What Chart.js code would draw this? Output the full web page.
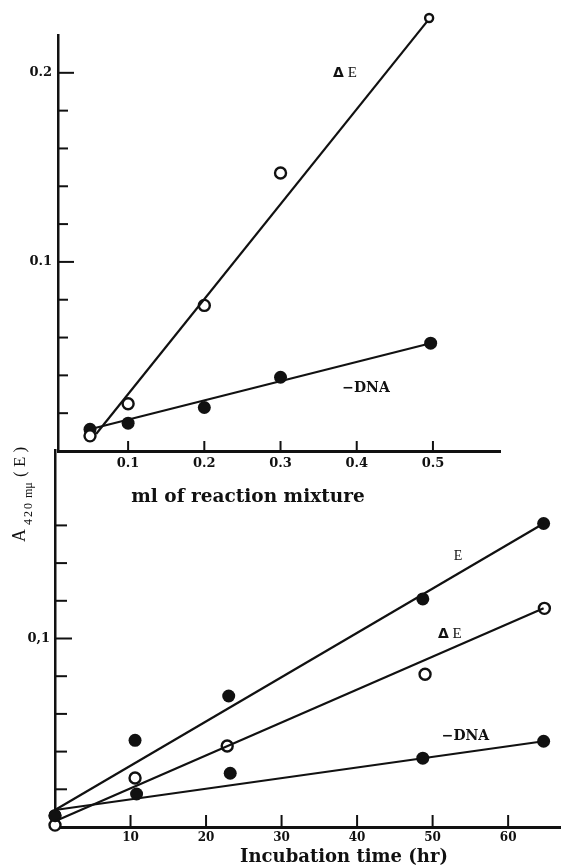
<!DOCTYPE html>
<html>
<head>
<meta charset="utf-8">
<script src="https://cdn.jsdelivr.net/npm/chart.js@4.4.1/dist/chart.umd.min.js"></script>
<style>
  html, body { margin: 0; padding: 0; background: #fff; }
  #wrap { position: relative; width: 561px; height: 868px; }
  #wrap canvas { position: absolute; left: 0; top: 0; }
</style>
</head>
<body>
<div id="wrap">
  <canvas id="time__canvas" width="561" height="868"></canvas>
  <canvas id="volume__canvas" width="561" height="868"></canvas>
</div>
<script>
// upper panel: A420 against ml of reaction mixture
const volumeDeltaX = [0.05, 0.1, 0.2, 0.3, 0.495];
const volumeDeltaE = [0.008, 0.025, 0.077, 0.147, 0.229];
const volumeNoDnaX = [0.05, 0.1, 0.2, 0.3, 0.497];
const volumeNoDna = [0.0115, 0.0147, 0.023, 0.039, 0.057];
const volumeDeltaFitX = [0.058, 0.494];
const volumeDeltaFitY = [0.009, 0.228];
const volumeNoDnaFitX = [0.05, 0.497];
const volumeNoDnaFitY = [0.0115, 0.057];
const volumeXTicks = [0.1, 0.2, 0.3, 0.4, 0.5];
const volumeYTicks = [0.02, 0.04, 0.06, 0.08, 0.1, 0.12, 0.14, 0.16, 0.18, 0.2];
const volumeYLabels = [0.1, 0.2];

// lower panel: A420 against incubation time
const timeEX = [0, 10.6, 23, 48.7, 64.7];
const timeE = [0.006, 0.046, 0.0695, 0.121, 0.161];
const timeDeltaX = [0, 10.6, 22.8, 49, 64.8];
const timeDeltaE = [0.001, 0.026, 0.043, 0.081, 0.116];
const timeNoDnaX = [0, 10.8, 23.2, 48.7, 64.7];
const timeNoDna = [0.006, 0.0175, 0.0285, 0.0365, 0.0455];
const timeEFitX = [0, 64.7];
const timeEFitY = [0.009, 0.161];
const timeDeltaFitX = [0, 64.7];
const timeDeltaFitY = [0.003, 0.116];
const timeNoDnaFitX = [0, 64.7];
const timeNoDnaFitY = [0.009, 0.0455];
const timeXTicks = [10, 20, 30, 40, 50, 60];
const timeYTicks = [0.02, 0.04, 0.06, 0.08, 0.1, 0.12, 0.14, 0.16];
const timeYLabels = [0.1];

const INK = "#111";
const TICK_FONT = { family: "'DejaVu Serif'", size: 13, weight: "bold" };

function zip(xs, ys) {
  return xs.map((x, i) => ({ x: x, y: ys[i] }));
}

function fitLine(xs, ys) {
  return { type: "line", data: zip(xs, ys), borderColor: INK, borderWidth: 2.2, pointRadius: 0, clip: false };
}

function openDots(xs, ys, radius) {
  return { data: zip(xs, ys), pointRadius: radius, backgroundColor: "#fff", borderColor: INK, borderWidth: 2.4, clip: false };
}

function filledDots(xs, ys) {
  return { data: zip(xs, ys), pointRadius: 6.5, backgroundColor: INK, borderColor: INK, borderWidth: 0, clip: false };
}

// no room kept for edge labels, the axes run to the edge of the plot box
function tightX(height) {
  return (s) => {
    s.height = height;
    s.paddingLeft = 0;
    s.paddingRight = 0;
  };
}

function tightY(width) {
  return (s) => {
    s.width = width;
    s.paddingTop = 0;
    s.paddingBottom = 0;
  };
}

// chart.js skips points outside the chart area even with clip off, so draw those again here
const strayPoints = {
  id: "strayPoints",
  afterDatasetsDraw(chart) {
    const area = chart.chartArea;
    const whole = { left: 0, top: 0, right: chart.width, bottom: chart.height };
    chart.data.datasets.forEach((ds, i) => {
      chart.getDatasetMeta(i).data.forEach((pt) => {
        const inside = pt.x >= area.left && pt.x <= area.right && pt.y >= area.top && pt.y <= area.bottom;
        if (!inside) pt.draw(chart.ctx, whole);
      });
    });
  },
};

// ticks point into the plot, so they are drawn here instead of by the scale
const inwardTicks = {
  id: "inwardTicks",
  afterDraw(chart, args, opts) {
    const { ctx, chartArea } = chart;
    const xs = chart.scales.x;
    const ys = chart.scales.y;
    ctx.save();
    ctx.strokeStyle = INK;
    ctx.lineWidth = 2;
    opts.yTicks.forEach((v) => {
      const py = ys.getPixelForValue(v);
      const len = opts.yMajor.includes(v) ? opts.majorLen : opts.minorLen;
      ctx.beginPath();
      ctx.moveTo(chartArea.left, py);
      ctx.lineTo(chartArea.left + len, py);
      ctx.stroke();
    });
    opts.xTicks.forEach((v) => {
      const px = xs.getPixelForValue(v);
      ctx.beginPath();
      ctx.moveTo(px, chartArea.bottom);
      ctx.lineTo(px, chartArea.bottom - opts.xLen);
      ctx.stroke();
    });
    ctx.restore();
  },
};

const textLayer = {
  id: "textLayer",
  afterDatasetsDraw(chart, args, opts) {
    const ctx = chart.ctx;
    const xs = chart.scales.x;
    const ys = chart.scales.y;
    ctx.save();
    ctx.fillStyle = INK;
    ctx.textBaseline = "alphabetic";
    opts.notes.forEach((note) => {
      let px = xs.getPixelForValue(note.x);
      const py = ys.getPixelForValue(note.y);
      ctx.textAlign = "left";
      note.parts.forEach(([str, font]) => {
        ctx.font = font;
        ctx.fillText(str, px, py);
        px += ctx.measureText(str).width;
      });
    });
    opts.titles.forEach((t) => {
      ctx.font = t.font;
      ctx.textAlign = "center";
      ctx.fillText(t.text, t.x, t.y);
    });
    if (opts.yTitle) {
      const yt = opts.yTitle;
      ctx.translate(yt.x, yt.y);
      ctx.rotate(-Math.PI / 2);
      ctx.textAlign = "left";
      ctx.font = "18px 'Liberation Serif'";
      ctx.fillText("A", 0, 0);
      ctx.font = "12px 'Liberation Serif'";
      ctx.letterSpacing = "2px";
      ctx.fillText("420", 17, 7);
      ctx.letterSpacing = "0px";
      ctx.fillText("mμ", 44, 7);
      ctx.font = "17px 'Liberation Serif'";
      ctx.fillText("( E )", 65, 0);
    }
    ctx.restore();
  },
};

function labelAt(list, text) {
  return (value) => (list.some((v) => Math.abs(v - value) < 1e-9) ? text(value) : "");
}

function makeTimeChart() {
  const ctx = document.getElementById("time__canvas").getContext("2d");
  return new Chart(ctx, {
    type: "scatter",
    data: {
      datasets: [
        fitLine(timeEFitX, timeEFitY),
        fitLine(timeDeltaFitX, timeDeltaFitY),
        fitLine(timeNoDnaFitX, timeNoDnaFitY),
        filledDots(timeEX, timeE),
        openDots(timeDeltaX, timeDeltaE, 5.5),
        filledDots(timeNoDnaX, timeNoDna),
      ],
    },
    options: {
      responsive: false,
      animation: false,
      devicePixelRatio: 1,
      layout: { autoPadding: false, padding: { top: 450, right: 0, bottom: 0, left: 0 } },
      plugins: {
        legend: { display: false },
        tooltip: { enabled: false },
        inwardTicks: { yTicks: timeYTicks, yMajor: timeYLabels, xTicks: timeXTicks, majorLen: 17, minorLen: 12, xLen: 12 },
        textLayer: {
          notes: [
            { x: 52.8, y: 0.1416, parts: [["E", "14px 'Liberation Serif'"]] },
            { x: 50.7, y: 0.1003, parts: [["Δ", "bold 14px 'DejaVu Sans'"], [" E", "15px 'Liberation Serif'"]] },
            { x: 51.2, y: 0.0462, parts: [["−DNA", "bold 14px 'DejaVu Serif'"]] },
          ],
          titles: [{ text: "Incubation time (hr)", x: 344, y: 862, font: "bold 18px 'DejaVu Serif'" }],
          yTitle: { x: 25, y: 542 },
        },
      },
      scales: {
        x: {
          type: "linear",
          min: 0,
          max: 67,
          afterFit: tightX(41),
          afterBuildTicks: (s) => { s.ticks = timeXTicks.map((v) => ({ value: v })); },
          grid: { drawOnChartArea: false, drawTicks: false },
          border: { color: INK, width: 3 },
          ticks: { padding: 4, color: INK, font: { family: "'DejaVu Serif'", size: 12, weight: "bold" }, autoSkip: false, maxRotation: 0 },
        },
        y: {
          type: "linear",
          min: 0,
          max: 0.2,
          afterFit: tightY(55),
          afterBuildTicks: (s) => { s.ticks = timeYTicks.map((v) => ({ value: v })); },
          grid: { drawOnChartArea: false, drawTicks: false },
          border: { color: INK, width: 2.5 },
          ticks: { padding: 5, color: INK, font: TICK_FONT, autoSkip: false, callback: labelAt(timeYLabels, (v) => v.toFixed(1).replace(".", ",")) },
        },
      },
    },
    plugins: [strayPoints, inwardTicks, textLayer],
  });
}

function makeVolumeChart() {
  const ctx = document.getElementById("volume__canvas").getContext("2d");
  return new Chart(ctx, {
    type: "scatter",
    data: {
      datasets: [
        fitLine(volumeDeltaFitX, volumeDeltaFitY),
        fitLine(volumeNoDnaFitX, volumeNoDnaFitY),
        openDots(volumeDeltaX, volumeDeltaE, [5.5, 5.5, 5.5, 5.5, 4]),
        filledDots(volumeNoDnaX, volumeNoDna),
      ],
    },
    options: {
      responsive: false,
      animation: false,
      devicePixelRatio: 1,
      layout: { autoPadding: false, padding: { top: 35, right: 61, bottom: 387, left: 0 } },
      plugins: {
        legend: { display: false },
        tooltip: { enabled: false },
        inwardTicks: { yTicks: volumeYTicks, yMajor: volumeYLabels, xTicks: volumeXTicks, majorLen: 16, minorLen: 10, xLen: 10 },
        textLayer: {
          notes: [
            { x: 0.369, y: 0.198, parts: [["Δ", "bold 14px 'DejaVu Sans'"], [" E", "15px 'Liberation Serif'"]] },
            { x: 0.381, y: 0.031, parts: [["−DNA", "bold 14px 'DejaVu Serif'"]] },
          ],
          titles: [{ text: "ml of reaction mixture", x: 248, y: 502, font: "bold 18.5px 'DejaVu Serif'" }],
        },
      },
      scales: {
        x: {
          type: "linear",
          min: 0.008,
          max: 0.588,
          afterFit: tightX(30),
          afterBuildTicks: (s) => { s.ticks = volumeXTicks.map((v) => ({ value: v })); },
          grid: { drawOnChartArea: false, drawTicks: false },
          border: { color: INK, width: 3 },
          ticks: { padding: 5, color: INK, font: TICK_FONT, autoSkip: false, maxRotation: 0, callback: (v) => v.toFixed(1) },
        },
        y: {
          type: "linear",
          min: 0,
          max: 0.22,
          afterFit: tightY(58),
          afterBuildTicks: (s) => { s.ticks = volumeYTicks.map((v) => ({ value: v })); },
          grid: { drawOnChartArea: false, drawTicks: false },
          border: { color: INK, width: 2.5 },
          ticks: { padding: 6, color: INK, font: TICK_FONT, autoSkip: false, callback: labelAt(volumeYLabels, (v) => v.toFixed(1)) },
        },
      },
    },
    plugins: [strayPoints, inwardTicks, textLayer],
  });
}

makeTimeChart();
makeVolumeChart();
</script>
</body>
</html>
